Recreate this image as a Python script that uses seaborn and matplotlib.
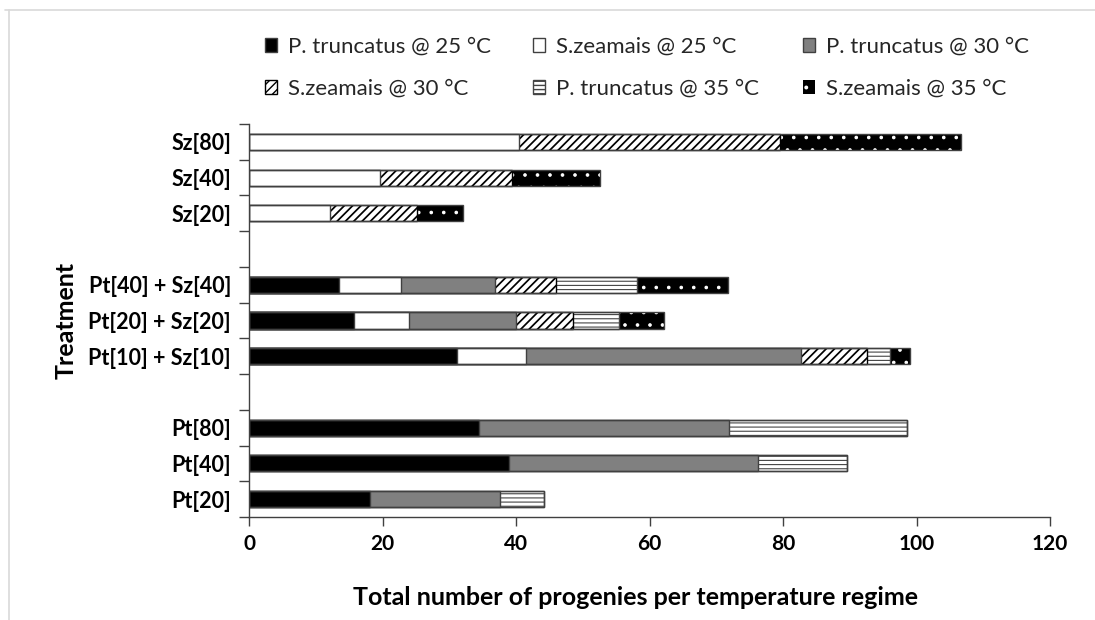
import numpy as np
import pandas as pd
import matplotlib
matplotlib.use("Agg")
import matplotlib.pyplot as plt
from matplotlib.lines import Line2D
from matplotlib.ticker import NullFormatter
import seaborn as sns

# ---------------- data ----------------
categories = ["Sz[80]", "Sz[40]", "Sz[20]", " ",
              "Pt[40] + Sz[40]", "Pt[20] + Sz[20]", "Pt[10] + Sz[10]", "  ",
              "Pt[80]", "Pt[40]", "Pt[20]"]
series_labels = ["P. truncatus @ 25 °C", "S.zeamais @ 25 °C", "P. truncatus @ 30 °C",
                 "S.zeamais @ 30 °C", "P. truncatus @ 35 °C", "S.zeamais @ 35 °C"]
pt_25 = [0, 0, 0, 0, 13.5, 15.7, 31.1, 0, 34.4, 39.0, 18.1]
sz_25 = [40.5, 19.6, 12.2, 0, 9.2, 8.2, 10.4, 0, 0, 0, 0]
pt_30 = [0, 0, 0, 0, 14.2, 16.1, 41.2, 0, 37.5, 37.2, 19.5]
sz_30 = [39.0, 19.8, 12.9, 0, 9.1, 8.5, 9.9, 0, 0, 0, 0]
pt_35 = [0, 0, 0, 0, 12.2, 7.0, 3.4, 0, 26.7, 13.4, 6.6]
sz_35 = [27.1, 13.2, 6.9, 0, 13.6, 6.7, 3.1, 0, 0, 0, 0]
x_ticks = [0, 20, 40, 60, 80, 100, 120]

# ---------------- figure geometry ----------------
W, H = 1095, 620
DPI = 75
S = 100 / DPI  # keeps pixel sizes identical to a 100-dpi design

EDGE = "#404040"
styles = [
    dict(face="#000000", edge=EDGE, hatch=None, lw=1.0, hlw=1.0),
    dict(face="#ffffff", edge=EDGE, hatch=None, lw=1.0, hlw=1.0),
    dict(face="#808080", edge=EDGE, hatch=None, lw=1.0, hlw=1.0),
    dict(face="#ffffff", edge="#000000", hatch="///", lw=1.0, hlw=1.25),
    dict(face="#ffffff", edge="#444444", hatch="---", lw=1.0, hlw=0.8),
    dict(face="#000000", edge="#ffffff", hatch=".", lw=0.0, hlw=0.8),
]

sns.set_theme(style="white")
plt.rcParams["font.family"] = ["Lato", "DejaVu Sans"]
plt.rcParams["hatch.linewidth"] = 1.0 * S

fig = plt.figure(figsize=(W / DPI, H / DPI), dpi=DPI)
ax = fig.add_axes([249 / W, 1 - 517 / H, (1050 - 249) / W, (517 - 124) / H])

series = [pt_25, sz_25, pt_30, sz_30, pt_35, sz_35]
cum = np.cumsum(np.array(series, dtype=float), axis=0)
cats = np.array(categories)
containers = [None] * 6
for i in reversed(range(6)):
    vals = np.array(series[i])
    mask = vals > 0
    df = pd.DataFrame({"Treatment": cats[mask], "value": cum[i][mask]})
    st = styles[i]
    with plt.rc_context({"hatch.linewidth": st["hlw"] * S}):
        sns.barplot(data=df, x="value", y="Treatment", order=categories, orient="h",
                    color=st["face"], saturation=1, width=0.45,
                    edgecolor=st["edge"], linewidth=st["lw"] * S, hatch=st["hatch"],
                    errorbar=None, ax=ax)
    containers[i] = ax.containers[-1]

# outline of whole stacked bars
totals = cum[-1]
tmask = totals > 0
df_tot = pd.DataFrame({"Treatment": cats[tmask], "value": totals[tmask]})
sns.barplot(data=df_tot, x="value", y="Treatment", order=categories, orient="h",
            fill=False, color=EDGE, linewidth=1.0 * S, width=0.45, errorbar=None, ax=ax)

# ---------------- axes ----------------
ax.set_xlim(0, 120)
ax.set_ylim(len(categories) - 0.5, -0.5)
ax.set_xticks(x_ticks)
ax.set_xticklabels([str(t) for t in x_ticks], fontsize=15 * S, fontweight="bold", color="black")
ax.set_yticks(np.arange(-0.5, len(categories)))
ax.yaxis.set_major_formatter(NullFormatter())
ax.set_yticks(np.arange(len(categories)), minor=True)
ax.set_yticklabels(categories, minor=True, fontsize=15.5 * S, fontweight="bold", color="black")
ax.tick_params(axis="y", which="major", left=True, length=7.5 * S, width=1 * S, color=EDGE,
               direction="out")
ax.tick_params(axis="y", which="minor", left=True, length=0, pad=13 * S)
ax.tick_params(axis="x", which="major", bottom=True, length=6.5 * S, width=1 * S, color=EDGE,
               direction="out", pad=6 * S)

for s in ["top", "right"]:
    ax.spines[s].set_visible(False)
for s in ["left", "bottom"]:
    ax.spines[s].set_color(EDGE)
    ax.spines[s].set_linewidth(1.0 * S)
ax.grid(False)

ax.set_xlabel("Total number of progenies per temperature regime", fontsize=18 * S,
              fontweight="bold", color="black")
ax.xaxis.set_label_coords(0.483, -0.175)
ax.set_ylabel("Treatment", fontsize=18 * S, fontweight="bold", color="black")
ax.yaxis.set_label_coords(-0.214, 0.5)

# ---------------- legend ----------------
leg_x = [265, 533, 803]
leg_y = [47, 89]
for idx in range(6):
    r, c = divmod(idx, 3)
    fig.legend([containers[idx]], [series_labels[idx]], loc="center left",
               bbox_to_anchor=(leg_x[c] / W, 1 - leg_y[r] / H),
               bbox_transform=fig.transFigure, frameon=False, borderpad=0,
               borderaxespad=0, handlelength=0.55, handleheight=0.6,
               handletextpad=0.5, fontsize=16 * S)

# light chart-area frame (left & top)
fig.add_artist(Line2D([9 / W, 9 / W], [0, 1 - 10 / H], transform=fig.transFigure,
                      color="#d9d9d9", lw=1.2 * S))
fig.add_artist(Line2D([4.5 / W, 1], [1 - 10 / H, 1 - 10 / H], transform=fig.transFigure,
                      color="#d9d9d9", lw=1.2 * S))

fig.savefig("out.png", dpi=DPI, facecolor="white")
